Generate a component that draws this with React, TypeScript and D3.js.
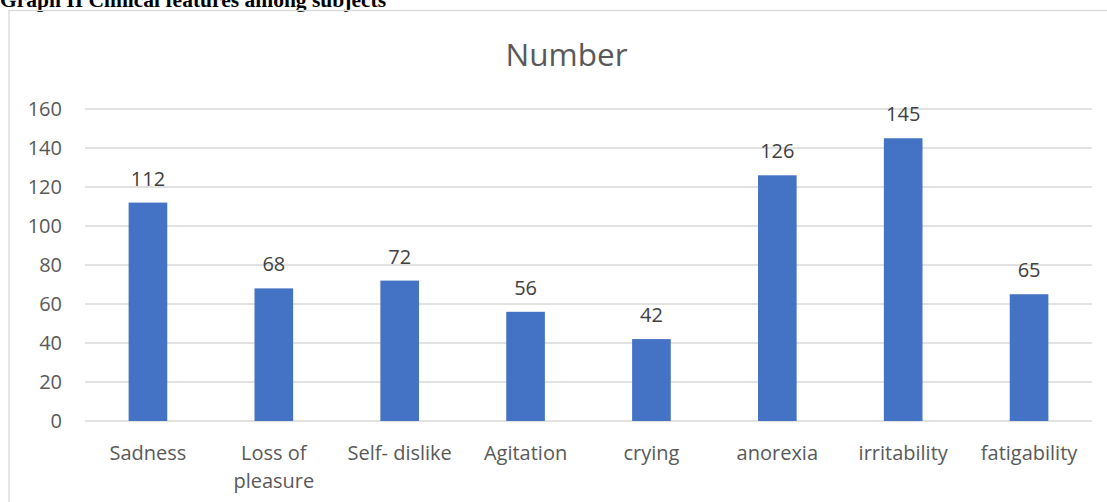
import { useEffect, useRef } from "react"
import * as d3 from "d3"

const categories = ["Sadness", "Loss of pleasure", "Self- dislike", "Agitation", "crying", "anorexia", "irritability", "fatigability"]
const labelLines = [["Sadness"], ["Loss of", "pleasure"], ["Self- dislike"], ["Agitation"], ["crying"], ["anorexia"], ["irritability"], ["fatigability"]]
const values = [112, 68, 72, 56, 42, 126, 145, 65]
const yTicks = [0, 20, 40, 60, 80, 100, 120, 140, 160]

const FONT = "'Open Sans', 'Noto Sans', sans-serif"

export default function App() {
    const ref = useRef<SVGSVGElement>(null)

    useEffect(() => {
        const svg = d3.select(ref.current)
        svg.selectAll("*").remove()

        const width = 1107
        const height = 502
        const left = 85
        const right = 1092
        const top = 109
        const bottom = 421

        // page heading, cropped at the top like the source scan
        svg.append("text")
            .attr("x", 0)
            .attr("y", 7)
            .attr("font-family", "'Liberation Serif', 'Times New Roman', serif")
            .attr("font-weight", "bold")
            .attr("font-size", 21.5)
            .attr("fill", "#000")
            .text("Graph II Clinical features among subjects")

        // chart frame
        svg.append("rect")
            .attr("x", 9)
            .attr("y", 10.5)
            .attr("width", width)
            .attr("height", height)
            .attr("fill", "none")
            .attr("stroke", "#d9d9d9")
            .attr("stroke-width", 1.3)

        svg.append("text")
            .attr("x", 566.5)
            .attr("y", 66)
            .attr("text-anchor", "middle")
            .attr("font-family", FONT)
            .attr("font-size", 31.5)
            .attr("fill", "#595959")
            .text("Number")

        const x = d3.scaleBand<string>()
            .domain(categories)
            .range([left, right])
            .paddingInner(0.693)
            .paddingOuter(0.3465)

        const y = d3.scaleLinear()
            .domain([0, 160])
            .range([bottom, top])

        const g = svg.append("g")

        g.selectAll("line.grid")
            .data(yTicks)
            .join("line")
            .attr("class", "grid")
            .attr("x1", left)
            .attr("x2", right)
            .attr("y1", d => y(d))
            .attr("y2", d => y(d))
            .attr("stroke", "#d9d9d9")
            .attr("stroke-width", 1.3)

        g.selectAll("text.ytick")
            .data(yTicks)
            .join("text")
            .attr("class", "ytick")
            .attr("x", 62)
            .attr("y", d => y(d) + 7)
            .attr("text-anchor", "end")
            .attr("font-family", FONT)
            .attr("font-size", 20)
            .attr("fill", "#595959")
            .text(d => d)

        g.selectAll("rect.bar")
            .data(values)
            .join("rect")
            .attr("class", "bar")
            .attr("x", (_, i) => x(categories[i])!)
            .attr("width", x.bandwidth())
            .attr("y", d => y(d))
            .attr("height", d => y(0) - y(d))
            .attr("fill", "#4472c4")

        g.selectAll("text.value")
            .data(values)
            .join("text")
            .attr("class", "value")
            .attr("x", (_, i) => x(categories[i])! + x.bandwidth() / 2)
            .attr("y", d => y(d) - 17)
            .attr("text-anchor", "middle")
            .attr("font-family", FONT)
            .attr("font-size", 20)
            .attr("fill", "#404040")
            .text(d => d)

        const xl = g.selectAll("text.xlab")
            .data(labelLines)
            .join("text")
            .attr("class", "xlab")
            .attr("x", (_, i) => x(categories[i])! + x.bandwidth() / 2)
            .attr("y", 460)
            .attr("text-anchor", "middle")
            .attr("font-family", FONT)
            .attr("font-size", 20)
            .attr("fill", "#595959")

        xl.selectAll("tspan")
            .data(d => d)
            .join("tspan")
            .attr("x", function () {
                return (this.parentNode as SVGTextElement).getAttribute("x")
            })
            .attr("dy", (_, i) => (i === 0 ? 0 : 28))
            .text(d => d)
    }, [])

    return (
        <svg
            ref={ref}
            width={1107}
            height={502}
            style={{ position: "fixed", left: 0, top: 0, background: "#fff" }}
        />
    )
}
